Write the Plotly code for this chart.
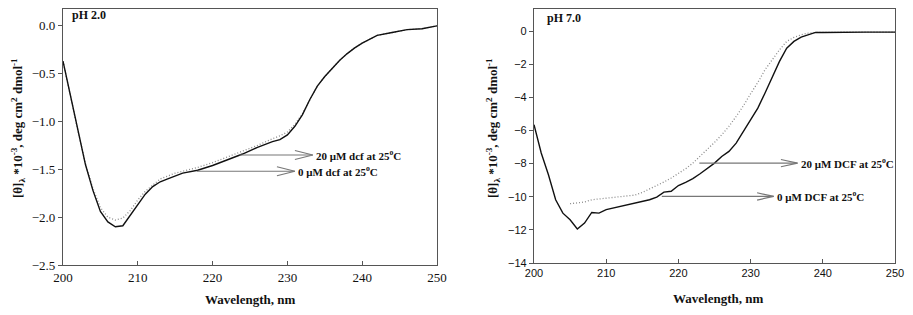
import plotly.graph_objects as go

# ---- pH 2.0 panel data ----
wl_a = [200, 201, 202, 203, 204, 205, 206, 207, 208, 209, 210, 211, 212, 213, 214, 215, 216,
        218, 220, 222, 224, 226, 228, 229, 230, 231, 232, 233, 234, 235, 236, 237, 238, 239,
        240, 242, 244, 246, 248, 250]
ph2_0uM = [-0.37, -0.74, -1.10, -1.45, -1.72, -1.94, -2.05, -2.10, -2.09, -1.98, -1.86, -1.76,
           -1.68, -1.63, -1.60, -1.57, -1.54, -1.51, -1.46, -1.40, -1.34, -1.27, -1.21, -1.19,
           -1.14, -1.05, -0.93, -0.77, -0.63, -0.53, -0.44, -0.36, -0.29, -0.23, -0.18, -0.10,
           -0.07, -0.04, -0.03, 0.0]
ph2_20uM = [-0.37, -0.74, -1.10, -1.44, -1.70, -1.90, -2.00, -2.03, -2.01, -1.93, -1.82, -1.73,
            -1.66, -1.60, -1.57, -1.54, -1.52, -1.48, -1.43, -1.37, -1.31, -1.25, -1.18, -1.15,
            -1.11, -1.03, -0.92, -0.77, -0.63, -0.53, -0.44, -0.36, -0.29, -0.23, -0.18, -0.10,
            -0.07, -0.04, -0.03, 0.0]

# ---- pH 7.0 panel data ----
wl_b = list(range(200, 251))
ph7_0uM = [-5.65, -7.36, -8.67, -10.18, -10.99, -11.39, -11.95, -11.59, -10.95, -10.99, -10.78,
           -10.68, -10.58, -10.48, -10.34, -10.28, -10.18, -10.02, -9.72, -9.67, -9.32, -9.13,
           -8.91, -8.61, -8.27, -7.97, -7.57, -7.26, -6.76, -6.06, -5.35, -4.65, -3.74, -2.74,
           -1.83, -1.03, -0.62, -0.36, -0.22, -0.08, -0.08, -0.07, -0.07, -0.07, -0.07, -0.06,
           -0.06, -0.06, -0.06, -0.06, -0.06]
wl_b20 = list(range(205, 251))
ph7_20uM = [-10.42, -10.36, -10.32, -10.18, -10.14, -10.08, -10.04, -10.00, -9.98, -9.90, -9.74,
            -9.54, -9.34, -9.11, -8.87, -8.61, -8.31, -7.97, -7.57, -7.16, -6.72, -6.26, -5.75,
            -5.15, -4.51, -3.78, -3.10, -2.33, -1.69, -1.13, -0.62, -0.38, -0.22, -0.12, -0.08,
            -0.07, -0.07, -0.07, -0.06, -0.06, -0.06, -0.06, -0.06, -0.06, -0.06, -0.06]

# labels: (text, tail x, tip x, y)
labels_a = [("20 μM dcf at 25<sup>o</sup>C", 223.6, 233.4, -1.35),
            ("0 μM dcf at 25<sup>o</sup>C", 217.9, 231.0, -1.52)]
labels_b = [("20 μM DCF at 25<sup>o</sup>C", 222.9, 236.5, -7.97),
            ("0 μM DCF at 25<sup>o</sup>C", 217.7, 233.2, -9.98)]

fig = go.Figure()
dotted = dict(color="#8a8a8a", width=1.3, dash="1px,2px")
solid = dict(color="#111", width=1.4)
fig.add_trace(go.Scatter(x=wl_a, y=ph2_20uM, mode="lines", xaxis="x", yaxis="y",
                         line=dotted, name="20 μM"))
fig.add_trace(go.Scatter(x=wl_a, y=ph2_0uM, mode="lines", xaxis="x", yaxis="y",
                         line=solid, name="0 μM"))
fig.add_trace(go.Scatter(x=wl_b20, y=ph7_20uM, mode="lines", xaxis="x2", yaxis="y2",
                         line=dotted, name="20 μM DCF"))
fig.add_trace(go.Scatter(x=wl_b, y=ph7_0uM, mode="lines", xaxis="x2", yaxis="y2",
                         line=solid, name="0 μM DCF"))

# page body has an 8px margin: figure is offset by 8px
OFF = 8
W, H = 897, 299
def px(x):
    return (x - OFF) / W
def py(y):
    return 1 - (y - OFF) / H

serif = "Liberation Serif, Times New Roman, serif"
sans = "Liberation Sans, Arial, sans-serif"
ytitle = "[θ]<sub>λ</sub> *10<sup>-3</sup>, deg cm<sup>2</sup> dmol<sup>-1</sup>"

shapes = []
annots = []
def add_labels(labels, xr, yr, hx, hy):
    for text, x0, x1, y in labels:
        shapes.append(dict(type="line", xref=xr, yref=yr, x0=x0, x1=x1, y0=y, y1=y,
                           line=dict(color="#777", width=1.2)))
        shapes.append(dict(type="path", xref=xr, yref=yr,
                           path=f"M {x1-hx},{y+hy} L {x1},{y} L {x1-hx},{y-hy}",
                           line=dict(color="#777", width=1.2)))
        annots.append(dict(text=f"<b>{text}</b>", xref=xr, yref=yr, x=x1 + 0.2, y=y,
                           xanchor="left", yanchor="middle", showarrow=False,
                           font=dict(family=serif, size=11, color="#111")))

add_labels(labels_a, "x", "y", 2.4, 0.047)
add_labels(labels_b, "x2", "y2", 2.3, 0.22)

def paper_text(text, x, y, size, angle=0, xanchor="center"):
    annots.append(dict(text=text, xref="paper", yref="paper", x=px(x), y=py(y),
                       xanchor=xanchor, yanchor="middle", showarrow=False, textangle=angle,
                       font=dict(family=serif, size=size, color="#111")))

paper_text("<b>pH 2.0</b>", 70, 15, 12, xanchor="left")
paper_text("<b>pH 7.0</b>", 545, 18, 12, xanchor="left")
paper_text("<b>Wavelength, nm</b>", 250, 299, 13)
paper_text("<b>Wavelength, nm</b>", 718, 298, 13)
paper_text(f"<b>{ytitle}</b>", 18, 128, 13, angle=-90)
paper_text(f"<b>{ytitle}</b>", 493, 128, 13, angle=-90)

axis_common = dict(showline=True, mirror=True, linecolor="#555", linewidth=1.2,
                   showgrid=False, zeroline=False, ticklen=4, tickcolor="#555",
                   automargin=False)

fig.update_layout(
    width=W, height=H, margin=dict(l=0, r=0, t=0, b=0, autoexpand=False),
    paper_bgcolor="white", plot_bgcolor="white", showlegend=False,
    xaxis=dict(domain=[px(63), px(437)], range=[200, 250], dtick=10, ticks="inside",
               tickfont=dict(family=serif, size=13, color="#111"),
               anchor="y", **axis_common),
    yaxis=dict(domain=[py(265), py(8.6)], range=[-2.5, 0.18], dtick=0.5, tickformat=".1f",
               ticks="outside", tickfont=dict(family=serif, size=13, color="#111"),
               anchor="x", **axis_common),
    xaxis2=dict(domain=[px(534), px(895)], range=[200, 250], dtick=10, ticks="inside",
                tickfont=dict(family=sans, size=11, color="#111"),
                anchor="y2", **axis_common),
    yaxis2=dict(domain=[py(263), py(8.6)], range=[-14, 1.36], dtick=2,
                ticks="outside", tickfont=dict(family=sans, size=11, color="#111"),
                anchor="x2", **axis_common),
    shapes=shapes, annotations=annots,
)

fig.write_html("out.html")
